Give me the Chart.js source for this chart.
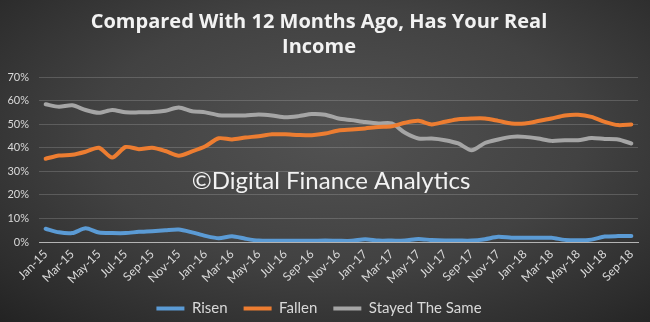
<!DOCTYPE html>
<html>
<head>
<meta charset="utf-8">
<script src="https://cdn.jsdelivr.net/npm/chart.js@4"></script>
<style>
    html, body { margin: 0; padding: 0; }
    #wrap {
        width: 650px;
        height: 322px;
        background: radial-gradient(ellipse 75% 80% at 52% 42%, #525252 0%, #424242 50%, #2d2d2d 85%, #232323 100%);
    }
</style>
</head>
<body>
<div id="wrap"><canvas id="chart" width="650" height="322"></canvas></div>
<script>
const months = [
    "Jan-15", "Feb-15", "Mar-15", "Apr-15", "May-15", "Jun-15", "Jul-15", "Aug-15", "Sep-15", "Oct-15", "Nov-15", "Dec-15",
    "Jan-16", "Feb-16", "Mar-16", "Apr-16", "May-16", "Jun-16", "Jul-16", "Aug-16", "Sep-16", "Oct-16", "Nov-16", "Dec-16",
    "Jan-17", "Feb-17", "Mar-17", "Apr-17", "May-17", "Jun-17", "Jul-17", "Aug-17", "Sep-17", "Oct-17", "Nov-17", "Dec-17",
    "Jan-18", "Feb-18", "Mar-18", "Apr-18", "May-18", "Jun-18", "Jul-18", "Aug-18", "Sep-18"
];

const risen = [
    5.6, 4.1, 3.8, 5.8, 4.0, 3.8, 3.8, 4.3, 4.6, 5.0, 5.3, 4.1,
    2.6, 1.6, 2.4, 1.4, 0.6, 0.5, 0.5, 0.5, 0.5, 0.6, 0.5, 0.5,
    1.2, 0.6, 0.6, 0.6, 1.3, 0.8, 0.6, 0.6, 0.6, 1.2, 2.2, 1.8,
    1.8, 1.8, 1.8, 0.9, 0.7, 1.0, 2.3, 2.5, 2.5
];

const fallen = [
    35.3, 36.7, 37.0, 38.3, 40.0, 35.8, 40.3, 39.4, 40.0, 38.6, 36.6, 38.4,
    40.6, 44.0, 43.5, 44.3, 44.9, 45.7, 45.7, 45.4, 45.3, 46.0, 47.3, 47.7,
    48.2, 48.8, 49.1, 50.6, 51.4, 49.9, 51.0, 52.1, 52.4, 52.4, 51.4, 50.3,
    50.3, 51.3, 52.4, 53.7, 54.0, 53.1, 51.0, 49.6, 49.9
];

const stayed = [
    58.4, 57.4, 58.0, 56.0, 54.8, 56.0, 55.0, 55.0, 55.1, 55.7, 57.1, 55.5,
    55.0, 53.8, 53.7, 53.7, 54.1, 53.7, 52.9, 53.4, 54.3, 54.0, 52.4, 51.7,
    50.9, 50.3, 50.3, 46.3, 43.9, 43.9, 43.2, 41.8, 38.9, 42.0, 43.5, 44.6,
    44.6, 43.9, 42.9, 43.2, 43.2, 44.1, 43.7, 43.5, 41.8
];

const titleLines = ["Compared With 12 Months Ago, Has Your Real", "Income"];
const watermark = "\u00A9Digital Finance Analytics";

const textColor = "#d9d9d9";

const watermarkPlugin = {
    id: "watermark",
    afterDraw(chart) {
        const ctx = chart.ctx;
        ctx.save();
        ctx.font = "24px Lato";
        ctx.fillStyle = "#f2f2f2";
        ctx.textAlign = "center";
        ctx.textBaseline = "alphabetic";
        ctx.fillText(watermark, 331, 189);
        ctx.restore();
    }
};

function lineSet(label, data, color) {
    return {
        label: label,
        data: data,
        borderColor: color,
        backgroundColor: color,
        borderWidth: 4,
        pointRadius: 0,
        tension: 0.25,
        borderCapStyle: "round",
        borderJoinStyle: "round",
        fill: false,
    };
}

new Chart(document.getElementById("chart"), {
    type: "line",
    data: {
        labels: months,
        datasets: [
            lineSet("Risen", risen, "#5b9bd5"),
            lineSet("Fallen", fallen, "#ed7d31"),
            lineSet("Stayed The Same", stayed, "#a5a5a5"),
        ],
    },
    options: {
        responsive: false,
        animation: false,
        layout: {
            padding: { left: 0, right: 12, top: 0, bottom: -4 },
        },
        scales: {
            x: {
                offset: true,
                grid: { display: false, drawTicks: false },
                border: { display: true, color: "#b4b4b4", width: 1 },
                ticks: {
                    autoSkip: false,
                    maxRotation: 45,
                    minRotation: 45,
                    padding: 5,
                    color: textColor,
                    font: { family: "Lato", size: 12 },
                    callback: function (value, index) {
                        return index % 2 === 0 ? this.getLabelForValue(value) : "";
                    },
                },
                afterFit: function (scale) {
                    scale.height = 43;
                },
            },
            y: {
                min: 0,
                max: 70,
                grid: {
                    drawTicks: false,
                    color: ctx => ctx.tick.value === 0 ? "#b4b4b4" : "rgba(255, 255, 255, 0.17)",
                },
                border: { display: false },
                ticks: {
                    stepSize: 10,
                    padding: 10,
                    color: textColor,
                    font: { family: "Lato", size: 11 },
                    callback: value => value + "%",
                },
                afterFit: function (scale) {
                    scale.width = 39;
                },
            },
        },
        plugins: {
            title: {
                display: true,
                text: titleLines,
                color: "#f2f2f2",
                font: { family: "Open Sans", size: 20, weight: "bold", lineHeight: "25px" },
                padding: { top: 10, bottom: 17 },
            },
            legend: {
                position: "bottom",
                labels: {
                    usePointStyle: true,
                    pointStyle: "line",
                    pointStyleWidth: 28,
                    color: textColor,
                    font: { family: "Lato", size: 15 },
                    padding: 16,
                },
            },
            tooltip: { enabled: false },
        },
    },
    plugins: [watermarkPlugin],
});
</script>
</body>
</html>
